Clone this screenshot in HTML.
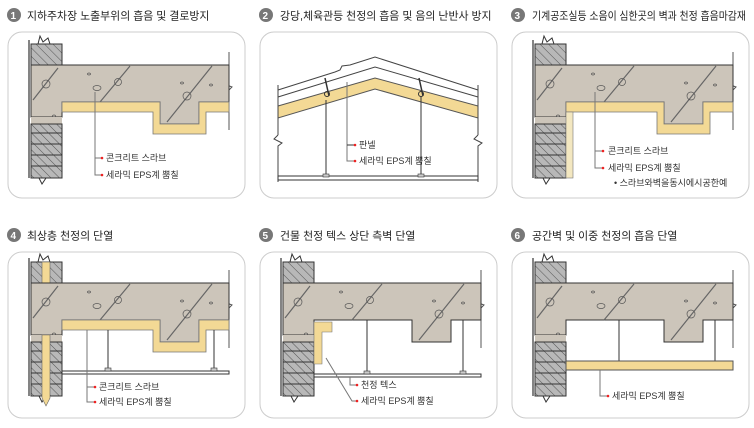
<!DOCTYPE html>
<html><head><meta charset="utf-8"><style>
html,body{margin:0;padding:0;background:#fff;width:754px;height:428px;overflow:hidden}
svg{display:block}
.t{font-family:"Liberation Sans","Noto Sans CJK KR",sans-serif;font-size:10.9px;fill:#222}
.l{font-family:"Liberation Sans","Noto Sans CJK KR",sans-serif;font-size:9px;fill:#333}
.n{font-family:"Liberation Sans",sans-serif;font-size:10px;font-weight:bold;fill:#fff}
</style></head><body>
<svg width="754" height="428" viewBox="0 0 754 428" xmlns="http://www.w3.org/2000/svg">
<defs>
<pattern id="h" width="6" height="6" patternUnits="userSpaceOnUse" patternTransform="rotate(-45)">
<rect width="6" height="6" fill="#b8b8b8"/><line x1="0" y1="0" x2="0" y2="6" stroke="#555" stroke-width="1"/>
</pattern>
<g id="top">
<rect x="31" y="44" width="31" height="21" fill="url(#h)" stroke="#333"/>
<path d="M31,44 L38,44 L40,36 L43,42 L48,38 L50,44 L62,44" fill="none" stroke="#333"/>
<line x1="29" y1="40" x2="29" y2="178" stroke="#333" stroke-width="1.2"/>
<line x1="229" y1="52" x2="229" y2="80" stroke="#555"/>
<path d="M229,80 L224,84 L232,87 L229,90" fill="none" stroke="#555"/>
<line x1="229" y1="90" x2="229" y2="130" stroke="#555"/>
</g>
<g id="slab">
<path d="M31,65 L229,65 L229,102 L199,102 L199,124 L160,124 L160,102 L62,102 L62,117 L31,117 Z" fill="#ccc5ba" stroke="#333"/>
<g stroke="#666" stroke-width="1.2"><line x1="33" y1="100" x2="58" y2="68"/><line x1="100" y1="102" x2="130" y2="66"/><line x1="167" y1="122" x2="212" y2="66"/></g>
<g fill="none" stroke="#555" stroke-width="0.7"><circle cx="46" cy="84" r="4"/><circle cx="118" cy="82" r="3.5"/><circle cx="187" cy="96" r="4"/><ellipse cx="97" cy="88" rx="4" ry="2.5"/><ellipse cx="89" cy="74" rx="1.5" ry="1"/><ellipse cx="54" cy="116" rx="1.5" ry="1"/><ellipse cx="182" cy="83" rx="1.5" ry="1"/><ellipse cx="211" cy="85" rx="1.5" ry="1"/></g>
</g>
<g id="brick">
<rect x="31" y="124" width="31" height="54" fill="url(#h)" stroke="#333"/>
<g stroke="#333"><line x1="31" y1="133" x2="62" y2="133"/><line x1="31" y1="144" x2="62" y2="144"/><line x1="31" y1="155" x2="62" y2="155"/><line x1="31" y1="166" x2="62" y2="166"/></g>
<path d="M31,178 L39,178 L42,184 L46,178 L62,178" fill="none" stroke="#333"/>
</g>
<path id="yel" d="M62,102 L160,102 L160,124 L199,124 L199,102 L229,102 L229,112 L206,112 L206,134 L153,134 L153,112 L62,112 Z" fill="#f3d995" stroke="#777" stroke-width="0.8"/>
<rect id="box" x="0" y="0" width="237" height="166" rx="14" fill="#fff" stroke="#ccc"/>
</defs>

<!-- Panel 1 -->
<circle cx="14" cy="15" r="7" fill="#777"/><text class="n" x="10.5" y="19">1</text>
<text class="t" x="27" y="19.5">지하주차장 노출부위의 흡음 및 결로방지</text>
<use href="#box" x="8" y="32"/>
<use href="#top"/><use href="#slab"/><rect x="31" y="117" width="31" height="7" fill="#ccc5ba"/><use href="#brick"/><use href="#yel"/>
<path d="M95,92 V175 H101" fill="none" stroke="#777"/><line x1="95" y1="158" x2="101" y2="158" stroke="#777"/>
<circle cx="102" cy="158" r="1.3" fill="#e22"/><circle cx="102" cy="175" r="1.3" fill="#e22"/>
<text class="l" x="106" y="161">콘크리트 스라브</text><text class="l" x="106" y="178">세라믹 EPS계 뿜칠</text>

<!-- Panel 2 -->
<circle cx="266" cy="15" r="7" fill="#777"/><text class="n" x="262.5" y="19">2</text>
<text class="t" x="280" y="19.5">강당,체육관등 천정의 흡음 및 음의 난반사 방지</text>
<use href="#box" x="260" y="32"/>
<path d="M278,97 L375,67 L478,97" fill="none" stroke="#444"/>
<path d="M278,90 L335,72 L340,70 L342,66 L350,65 L375,57 L478,90" fill="none" stroke="#444"/>
<path d="M278,106 L375,78 L478,106 L478,118 L375,89 L278,118 Z" fill="#f3d995" stroke="#555"/>
<line x1="278" y1="85" x2="278" y2="135" stroke="#444"/><path d="M278,135 L274,139 L282,143 L278,146 V182" fill="none" stroke="#444"/>
<line x1="478" y1="85" x2="478" y2="135" stroke="#444"/><path d="M478,135 L474,139 L482,143 L478,146 V182" fill="none" stroke="#444"/>
<rect x="278" y="176" width="200" height="4" fill="#fff" stroke="#333"/>
<line x1="326" y1="100" x2="326" y2="175" stroke="#333"/><line x1="421" y1="96" x2="421" y2="175" stroke="#333"/>
<rect x="323" y="174" width="6" height="3" fill="#ccc" stroke="#333" stroke-width="0.6"/><rect x="418" y="174" width="6" height="3" fill="#ccc" stroke="#333" stroke-width="0.6"/>
<path d="M325,78 L329,96 M419,78 L423,96" stroke="#333" stroke-width="1.5"/>
<circle cx="327" cy="94" r="2.5" fill="none" stroke="#333"/><circle cx="421" cy="94" r="2.5" fill="none" stroke="#333"/>
<path d="M347,82 V161 H354" fill="none" stroke="#777"/><line x1="347" y1="145" x2="354" y2="145" stroke="#333"/>
<circle cx="355" cy="145" r="1.3" fill="#e22"/><circle cx="355" cy="161" r="1.3" fill="#e22"/>
<text class="l" x="359" y="148">판넬</text><text class="l" x="359" y="164">세라믹 EPS계 뿜칠</text>

<!-- Panel 3 -->
<circle cx="518" cy="15" r="7" fill="#777"/><text class="n" x="514.5" y="19">3</text>
<text class="t" x="532" y="19.5" textLength="214" lengthAdjust="spacingAndGlyphs">기계공조실등 소음이 심한곳의 벽과 천정 흡음마감재</text>
<use href="#box" x="512" y="32"/>
<g transform="translate(504,0)">
<use href="#top"/><use href="#slab"/><rect x="31" y="117" width="31" height="7" fill="#ccc5ba"/><use href="#brick"/><use href="#yel"/>
<rect x="62" y="112" width="7" height="66" fill="#f3e7c0" stroke="#777" stroke-width="0.6"/>
<path d="M91,92 V168 H98" fill="none" stroke="#777"/><line x1="91" y1="151" x2="98" y2="151" stroke="#777"/>
<circle cx="99" cy="151" r="1.3" fill="#e22"/><circle cx="99" cy="168" r="1.3" fill="#e22"/>
<text class="l" x="104" y="154">콘크리트 스라브</text><text class="l" x="104" y="171">세라믹 EPS계 뿜칠</text>
<text class="l" x="110" y="186">• 스라브와벽을동시에시공한예</text>
</g>

<!-- Panel 4 -->
<circle cx="14" cy="235" r="7" fill="#777"/><text class="n" x="10.5" y="239">4</text>
<text class="t" x="27" y="239.5">최상층 천정의 단열</text>
<use href="#box" x="8" y="252"/>
<g transform="translate(0,218)">
<use href="#top"/><rect x="42" y="44" width="8" height="21" fill="#f3d995" stroke="#666" stroke-width="0.6"/>
<use href="#slab"/><rect x="31" y="117" width="31" height="7" fill="#ccc5ba"/><use href="#brick"/>
<path d="M42,117 H50 V180 L46,188 L42,180 Z" fill="#f3d995" stroke="#666" stroke-width="0.6"/>
<use href="#yel"/>
<line x1="108" y1="112" x2="108" y2="151" stroke="#333"/><line x1="214" y1="112" x2="214" y2="151" stroke="#333"/>
<rect x="62" y="153" width="167" height="3" fill="#fff" stroke="#333"/>
<rect x="105" y="150" width="6" height="3" fill="#ccc" stroke="#333" stroke-width="0.6"/><rect x="211" y="150" width="6" height="3" fill="#ccc" stroke="#333" stroke-width="0.6"/>
<path d="M87,112 V184 H94" fill="none" stroke="#777"/><line x1="87" y1="169" x2="94" y2="169" stroke="#777"/>
<circle cx="95" cy="169" r="1.3" fill="#e22"/><circle cx="95" cy="184" r="1.3" fill="#e22"/>
<text class="l" x="99" y="172">콘크리트 스라브</text><text class="l" x="99" y="187">세라믹 EPS계 뿜칠</text>
</g>

<!-- Panel 5 -->
<circle cx="266" cy="235" r="7" fill="#777"/><text class="n" x="262.5" y="239">5</text>
<text class="t" x="280" y="239.5">건물 천정 텍스 상단 측벽 단열</text>
<use href="#box" x="260" y="252"/>
<g transform="translate(252,218)">
<use href="#top"/><use href="#slab"/><rect x="31" y="117" width="31" height="7" fill="#ccc5ba"/><use href="#brick"/>
<path d="M62,104 H80 V114 H70 V146 H62 Z" fill="#f3d995" stroke="#777" stroke-width="0.6"/>
<line x1="115" y1="102" x2="115" y2="156" stroke="#333"/><line x1="211" y1="102" x2="211" y2="156" stroke="#333"/>
<rect x="62" y="156" width="167" height="3" fill="#fff" stroke="#333"/>
<rect x="112" y="153" width="6" height="3" fill="#ccc" stroke="#333" stroke-width="0.6"/><rect x="208" y="153" width="6" height="3" fill="#ccc" stroke="#333" stroke-width="0.6"/>
<path d="M98,159 V167 H104" fill="none" stroke="#777"/><path d="M74,140 L100,183 H104" fill="none" stroke="#777"/>
<circle cx="105" cy="167" r="1.3" fill="#e22"/><circle cx="105" cy="183" r="1.3" fill="#e22"/>
<text class="l" x="109" y="170">천정 텍스</text><text class="l" x="109" y="186">세라믹 EPS계 뿜칠</text>
</g>

<!-- Panel 6 -->
<circle cx="518" cy="235" r="7" fill="#777"/><text class="n" x="514.5" y="239">6</text>
<text class="t" x="532" y="239.5">공간벽 및 이중 천정의 흡음 단열</text>
<use href="#box" x="512" y="252"/>
<g transform="translate(504,218)">
<use href="#top"/><use href="#slab"/><rect x="31" y="117" width="31" height="7" fill="#ccc5ba"/><use href="#brick"/>
<line x1="115" y1="102" x2="115" y2="143" stroke="#333"/><line x1="211" y1="102" x2="211" y2="143" stroke="#333"/>
<rect x="62" y="143" width="167" height="9" fill="#f3d995" stroke="#555"/>
<path d="M96,152 V178 H103" fill="none" stroke="#777"/>
<circle cx="104" cy="178" r="1.3" fill="#e22"/>
<text class="l" x="108" y="181">세라믹 EPS계 뿜칠</text>
</g>
</svg>
</body></html>
